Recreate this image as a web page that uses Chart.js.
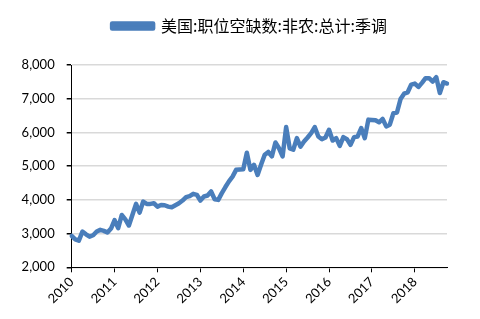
<!DOCTYPE html>
<html>
<head>
<meta charset="utf-8">
<script src="https://cdn.jsdelivr.net/npm/chart.js@4.4.1/dist/chart.umd.min.js"></script>
<style>
  html, body { margin: 0; padding: 0; background: #fff; }
  #wrap { width: 480px; height: 319px; position: relative; }
</style>
</head>
<body>
<div id="wrap"><canvas id="chart"></canvas></div>
<script>
// monthly, Jan 2010 .. Oct 2018 (thousands)
const seriesName = "美国:职位空缺数:非农:总计:季调";
const years = [2010, 2011, 2012, 2013, 2014, 2015, 2016, 2017, 2018];
const openings = [
  2930, 2830, 2790, 3060, 2980, 2910, 2950, 3060, 3110, 3080, 3030, 3150,
  3400, 3160, 3550, 3420, 3240, 3560, 3880, 3620, 3950, 3880, 3880, 3900,
  3800, 3850, 3840, 3800, 3780, 3840, 3900, 3980, 4080, 4110, 4180, 4150,
  3980, 4100, 4130, 4250, 4020, 4000, 4200, 4380, 4550, 4690, 4890, 4900,
  4910, 5400, 4890, 5040, 4740, 5050, 5340, 5420, 5290, 5700, 5530, 5290,
  6160, 5530, 5490, 5830, 5580, 5730, 5850, 5980, 6160, 5880, 5800, 5850,
  6080, 5760, 5830, 5600, 5860, 5800, 5630, 5860, 5880, 6130, 5830, 6380,
  6370, 6360, 6300, 6400, 6180, 6230, 6570, 6590, 6990, 7150, 7190, 7420,
  7450, 7350, 7470, 7610, 7610, 7510, 7640, 7170, 7490, 7450
];
const yTicks = [2000, 3000, 4000, 5000, 6000, 7000, 8000];

const labels = openings.map(function (_, i) {
  return (years[0] + Math.floor(i / 12)) + "-" + String(i % 12 + 1).padStart(2, "0");
});

const blue = "#4a7ebb";

// extra room under the legend, and shift it right a bit
const legendTweak = {
  id: "legendTweak",
  beforeInit: function (chart) {
    const fit = chart.legend.fit;
    chart.legend.fit = function () {
      fit.call(this);
      this.height += 21;
    };
  },
  afterLayout: function (chart) {
    chart.legend.left += 26;
    chart.legend.right += 26;
  }
};

new Chart(document.getElementById("chart"), {
  type: "line",
  data: {
    labels: labels,
    datasets: [{
      label: seriesName,
      data: openings,
      borderColor: blue,
      backgroundColor: blue,
      borderWidth: 4.5,
      pointRadius: 0,
      tension: 0,
      borderJoinStyle: "round",
      borderCapStyle: "round"
    }]
  },
  plugins: [legendTweak],
  options: {
    responsive: true,
    maintainAspectRatio: false,
    animation: false,
    locale: "en-US",
    layout: { padding: { left: 0, right: 33, top: 8, bottom: 0 } },
    plugins: {
      legend: {
        position: "top",
        labels: {
          boxWidth: 41,
          boxHeight: 5,
          color: "#000",
          font: { family: "'Noto Sans CJK SC'", size: 16 },
          padding: 10
        }
      },
      tooltip: { enabled: false }
    },
    scales: {
      x: {
        type: "category",
        offset: false,
        border: { color: "#000", width: 1 },
        grid: { drawOnChartArea: false, tickColor: "#000", tickLength: 5 },
        ticks: {
          autoSkip: false,
          maxRotation: 45,
          minRotation: 45,
          padding: 2,
          color: "#000",
          font: { family: "Lato", size: 13 },
          callback: function (val, i) {
            return i % 12 === 0 ? String(years[0] + i / 12) : null;
          }
        },
        afterFit: function (s) { s.height = 51.7; }
      },
      y: {
        min: yTicks[0],
        max: yTicks[yTicks.length - 1],
        border: { color: "#000", width: 1 },
        grid: { color: "#d9d9d9", lineWidth: 1.5, tickColor: "#000", tickLength: 5 },
        ticks: {
          stepSize: 1000,
          padding: 12,
          color: "#000",
          font: { family: "Lato", size: 13 }
        },
        afterFit: function (s) { s.width = 71.7; }
      }
    }
  }
});
</script>
</body>
</html>
